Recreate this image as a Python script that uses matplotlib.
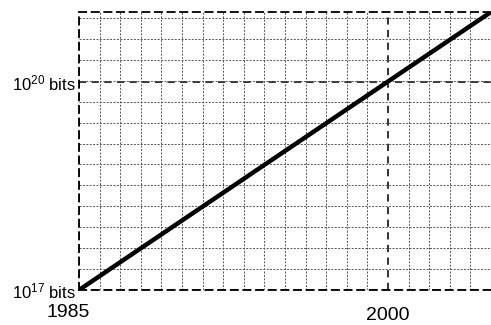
import matplotlib
matplotlib.use('Agg')
import matplotlib.pyplot as plt
from matplotlib.ticker import FixedLocator, NullFormatter
from matplotlib.transforms import ScaledTranslation
import numpy as np

plt.rcParams['font.family'] = ['Liberation Sans', 'DejaVu Sans']
plt.rcParams['mathtext.default'] = 'regular'

# storage growth, one doubling per 1.5 years
years = [1985, 2005]
bits = [1e17, 1e21]

xticks = [1985, 2000]
xlabels = ['1985', '2000']
yticks = [1e17, 1e20]
ylabels = ['10$^{17}$ bits', '10$^{20}$ bits']

fig = plt.figure(figsize=(4.91, 3.25), dpi=100)
ax = fig.add_axes([79/491, 1 - 290/325, (491 - 79)/491, (290 - 12)/325])

ax.plot(years, bits, color='black', lw=3.2, solid_capstyle='butt', zorder=5)

ax.set_yscale('log')
ax.set_xlim(1985, 2005)
ax.set_ylim(1e17, 1e21)

# minor grid: every year, every doubling
ax.xaxis.set_minor_locator(FixedLocator(np.arange(1985, 2006, 1)))
ax.yaxis.set_minor_locator(FixedLocator([1e17 * 2**k for k in range(14)]))
ax.yaxis.set_minor_formatter(NullFormatter())
ax.grid(which='minor', ls=(0, (2, 1.5)), lw=0.7, color='#555555')
ax.grid(which='major', ls=(0, (4, 3)), lw=1.3, color='#222222')
ax.set_axisbelow(True)

ax.set_xticks(xticks)
ax.set_xticklabels(xlabels, fontsize=14)
ax.set_yticks(yticks)
ax.set_yticklabels(ylabels, fontsize=12)
ax.tick_params(which='both', length=0, pad=2)
ax.tick_params(axis='x', pad=12.5)

labs = ax.get_xticklabels()
labs[0].set_transform(labs[0].get_transform() + ScaledTranslation(-11/100, 3/100, fig.dpi_scale_trans))

for name in ['left', 'bottom', 'top']:
    ax.spines[name].set_linestyle((0, (4, 3)))
    ax.spines[name].set_linewidth(1.3)
ax.spines['right'].set_visible(False)

fig.savefig('out.png', dpi=100)
